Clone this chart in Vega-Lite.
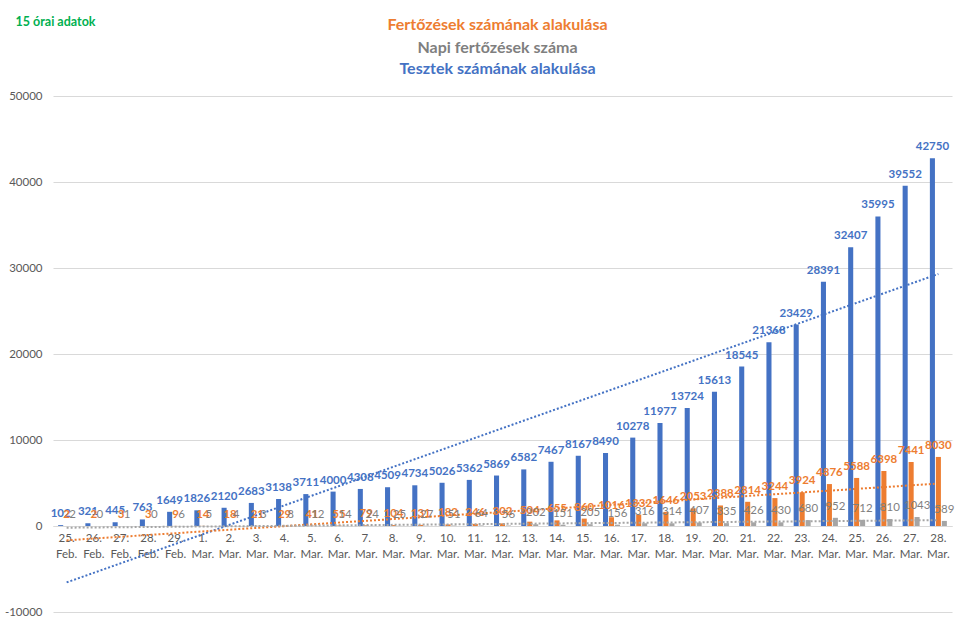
{
  "$schema": "https://vega.github.io/schema/vega-lite/v6.json",
  "autosize": {"type": "none"},
  "padding": {"left": 53, "top": 96, "right": 15, "bottom": 16},
  "width": 899,
  "height": 516,
  "background": "white",
  "config": {"view": {"stroke": null}, "font": "Lato"},
  "title": {
    "text": "Fertőzések számának alakulása",
    "subtitle": "Napi fertőzések száma",
    "color": "#ED7D31",
    "subtitleColor": "#7F7F7F",
    "fontSize": 16,
    "subtitleFontSize": 16,
    "fontWeight": "bold",
    "subtitleFontWeight": "bold",
    "font": "Lato",
    "subtitleFont": "Lato",
    "subtitlePadding": 7,
    "anchor": "middle",
    "dx": -5,
    "offset": -41
  },
  "datasets": {
    "t": [
      {"i": 1, "tests": 102, "cases": 2, "daily": 2},
      {"i": 2, "tests": 321, "cases": 2, "daily": 0},
      {"i": 3, "tests": 445, "cases": 3, "daily": 1},
      {"i": 4, "tests": 763, "cases": 3, "daily": 0},
      {"i": 5, "tests": 1649, "cases": 9, "daily": 6},
      {"i": 6, "tests": 1826, "cases": 14, "daily": 5},
      {"i": 7, "tests": 2120, "cases": 18, "daily": 4},
      {"i": 8, "tests": 2683, "cases": 21, "daily": 3},
      {"i": 9, "tests": 3138, "cases": 29, "daily": 8},
      {"i": 10, "tests": 3711, "cases": 41, "daily": 12},
      {"i": 11, "tests": 4000, "cases": 55, "daily": 14},
      {"i": 12, "tests": 4308, "cases": 79, "daily": 24},
      {"i": 13, "tests": 4509, "cases": 104, "daily": 25},
      {"i": 14, "tests": 4734, "cases": 131, "daily": 27},
      {"i": 15, "tests": 5026, "cases": 182, "daily": 51},
      {"i": 16, "tests": 5362, "cases": 246, "daily": 64},
      {"i": 17, "tests": 5869, "cases": 302, "daily": 56},
      {"i": 18, "tests": 6582, "cases": 504, "daily": 202},
      {"i": 19, "tests": 7467, "cases": 655, "daily": 151},
      {"i": 20, "tests": 8167, "cases": 860, "daily": 205},
      {"i": 21, "tests": 8490, "cases": 1016, "daily": 156},
      {"i": 22, "tests": 10278, "cases": 1332, "daily": 316},
      {"i": 23, "tests": 11977, "cases": 1646, "daily": 314},
      {"i": 24, "tests": 13724, "cases": 2053, "daily": 407},
      {"i": 25, "tests": 15613, "cases": 2388, "daily": 335},
      {"i": 26, "tests": 18545, "cases": 2814, "daily": 426},
      {"i": 27, "tests": 21368, "cases": 3244, "daily": 430},
      {"i": 28, "tests": 23429, "cases": 3924, "daily": 680},
      {"i": 29, "tests": 28391, "cases": 4876, "daily": 952},
      {"i": 30, "tests": 32407, "cases": 5588, "daily": 712},
      {"i": 31, "tests": 35995, "cases": 6398, "daily": 810},
      {"i": 32, "tests": 39552, "cases": 7441, "daily": 1043},
      {"i": 33, "tests": 42750, "cases": 8030, "daily": 589}
    ]
  },
  "data": {"name": "t"},
  "transform": [{"fold": ["tests", "cases", "daily"], "as": ["s", "v"]}],
  "encoding": {
    "y": {
      "field": "v", "type": "quantitative",
      "scale": {"domain": [-10000, 50000], "nice": false},
      "axis": {
        "values": [-10000, 0, 10000, 20000, 30000, 40000, 50000],
        "grid": true, "gridColor": "#D9D9D9", "domain": false, "ticks": false,
        "labelColor": "#595959", "labelFontSize": 11.5, "labelFont": "Lato", "labelPadding": 11,
        "labelExpr": "datum.value + ''",
        "title": "15 órai adatok", "titleAngle": 0, "titleAlign": "left", "titleBaseline": "middle",
        "titleX": -38, "titleY": -75, "titleColor": "#00B050", "titleFontWeight": "bold",
        "titleFontSize": 12.5, "titleFont": "Lato"
      }
    }
  },
  "layer": [
    {
      "mark": {"type": "bar"},
      "encoding": {
        "x": {
          "field": "i", "type": "ordinal",
          "scale": {"paddingInner": 0.376, "paddingOuter": 0.188},
          "axis": {
            "orient": "bottom", "offset": -86, "title": null,
            "labelAngle": 0, "ticks": false, "domainColor": "#D9D9D9",
            "labelColor": "#595959", "labelFontSize": 11.5, "labelFont": "Lato",
            "labelPadding": 6, "labelBaseline": "top", "labelLineHeight": 16,
            "labelExpr": "split(['25. Feb.','26. Feb.','27. Feb.','28. Feb.','29. Feb.','1. Mar.','2. Mar.','3. Mar.','4. Mar.','5. Mar.','6. Mar.','7. Mar.','8. Mar.','9. Mar.','10. Mar.','11. Mar.','12. Mar.','13. Mar.','14. Mar.','15. Mar.','16. Mar.','17. Mar.','18. Mar.','19. Mar.','20. Mar.','21. Mar.','22. Mar.','23. Mar.','24. Mar.','25. Mar.','26. Mar.','27. Mar.','28. Mar.'][datum.value - 1], ' ')"
          }
        },
        "xOffset": {"field": "s", "type": "nominal", "sort": ["tests", "cases", "daily"], "scale": {"paddingInner": 0.15}},
        "color": {
          "field": "s", "type": "nominal", "legend": null,
          "scale": {"domain": ["tests", "cases", "daily"], "range": ["#4472C4", "#ED7D31", "#A5A5A5"]}
        }
      }
    },
    {
      "transform": [{"regression": "v", "on": "i", "groupby": ["s"]}],
      "mark": {"type": "line", "strokeDash": [2, 2], "strokeWidth": 2, "strokeCap": "butt"},
      "encoding": {
        "x": {
          "field": "i", "type": "ordinal",
          "axis": {
            "orient": "top", "labels": false, "ticks": false, "domain": false,
            "title": "Tesztek számának alakulása", "titleColor": "#4472C4", "titleFontSize": 16,
            "titleFontWeight": "bold", "titleFont": "Lato", "titleBaseline": "middle", "titleY": -28, "titleX": 444
          }
        },
        "color": {"field": "s", "type": "nominal", "legend": null}
      }
    },
    {
      "transform": [{"filter": "datum.s != 'daily'"}],
      "mark": {"type": "text", "baseline": "bottom", "dy": -6, "fontSize": 11.5, "fontWeight": "bold", "font": "Lato"},
      "encoding": {
        "x": {"field": "i", "type": "ordinal", "axis": null},
        "xOffset": {"field": "s", "type": "nominal", "sort": ["tests", "cases", "daily"]},
        "text": {"field": "v", "type": "quantitative", "format": "d"},
        "color": {"field": "s", "type": "nominal", "legend": null}
      }
    },
    {
      "transform": [{"filter": "datum.s == 'daily'"}],
      "mark": {"type": "text", "baseline": "bottom", "dy": -6, "fontSize": 11.5, "font": "Lato", "color": "#7F7F7F"},
      "encoding": {
        "x": {"field": "i", "type": "ordinal", "axis": null},
        "xOffset": {"field": "s", "type": "nominal", "sort": ["tests", "cases", "daily"]},
        "text": {"field": "v", "type": "quantitative", "format": "d"}
      }
    }
  ],
  "resolve": {"axis": {"x": "independent"}}
}
